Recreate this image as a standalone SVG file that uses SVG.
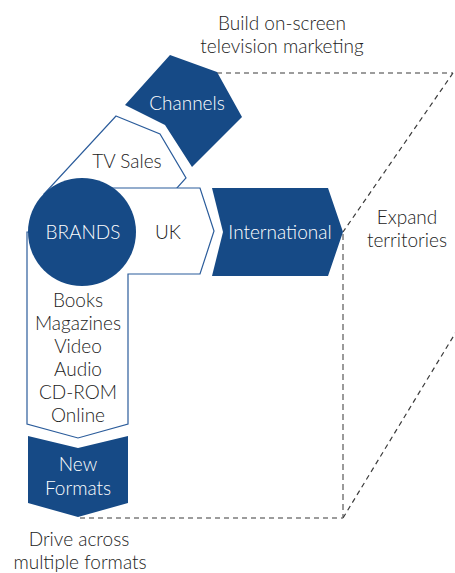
<svg xmlns="http://www.w3.org/2000/svg" width="455" height="573" viewBox="0 0 455 573">
  <style>
    .solid { fill: #164a86; stroke: none; }
    .outline { fill: #ffffff; stroke: #2b5c9b; stroke-width: 1.2; stroke-linejoin: miter; }
    .lbl { font-family: Lato, "Open Sans", "Liberation Sans", sans-serif; font-size: 19px; font-weight: 300; text-anchor: middle; }
    .dark { fill: #222222; }
    .light { fill: #ffffff; }
    .dash { fill: none; stroke: #3a3a3a; stroke-width: 1.2; stroke-dasharray: 5 4; }
    .dash-grey { fill: none; stroke: #9a9a9a; stroke-width: 2; stroke-dasharray: 6 4; }
  </style>

  <rect width="455" height="573" fill="#ffffff"/>

  <!-- cube edges -->
  <g id="connectors">
    <path class="dash" d="M217 73 H453"/>
    <path class="dash" d="M453 73 L343 232"/>
    <path class="dash-grey" d="M343 234 V517"/>
    <path class="dash" d="M80 518 H343"/>
    <path class="dash" d="M343 518 L456 332"/>
  </g>

  <g id="tv-sales">
    <path class="outline" d="M116 116 L160 134 L186 178 L150 218 L82 232 L44 194 Z"/>
    <text class="lbl dark" x="127" y="168">TV Sales</text>
  </g>

  <g id="channels">
    <path class="solid" d="M125 105 L170 55 L217 72 L242 117 L192 167 L165 125 Z"/>
    <text class="lbl light" x="187" y="110">Channels</text>
  </g>

  <!-- UK arm and formats column share one outline -->
  <g id="uk-formats">
    <path class="outline" d="M82 188 H200 L214 231 L200 274 H128 V424 L78 438 L27 424 V232 H82 Z"/>
    <text class="lbl dark" x="168" y="239">UK</text>
    <text class="lbl dark" x="78" y="307">Books</text>
    <text class="lbl dark" x="78" y="330">Magazines</text>
    <text class="lbl dark" x="78" y="353">Video</text>
    <text class="lbl dark" x="78" y="376">Audio</text>
    <text class="lbl dark" x="78" y="399">CD-ROM</text>
    <text class="lbl dark" x="78" y="422">Online</text>
  </g>

  <g id="brands">
    <circle class="solid" cx="82" cy="232" r="54"/>
    <text class="lbl light" x="83" y="239">BRANDS</text>
  </g>

  <g id="international">
    <path class="solid" d="M212 188 H328 L343 232 L328 276 H212 L223 232 Z"/>
    <text class="lbl light" x="280" y="239">International</text>
  </g>

  <g id="new-formats">
    <path class="solid" d="M28 436 L78 448 L128 436 V503 L78 517 L28 503 Z"/>
    <text class="lbl light" x="78" y="471">New</text>
    <text class="lbl light" x="78" y="495">Formats</text>
  </g>

  <g id="notes">
    <text class="lbl dark" x="282" y="30">Build on-screen</text>
    <text class="lbl dark" x="282" y="53">television marketing</text>
    <text class="lbl dark" x="407" y="224">Expand</text>
    <text class="lbl dark" x="407" y="247">territories</text>
    <text class="lbl dark" x="79" y="546">Drive across</text>
    <text class="lbl dark" x="80" y="569">multiple formats</text>
  </g>
</svg>
